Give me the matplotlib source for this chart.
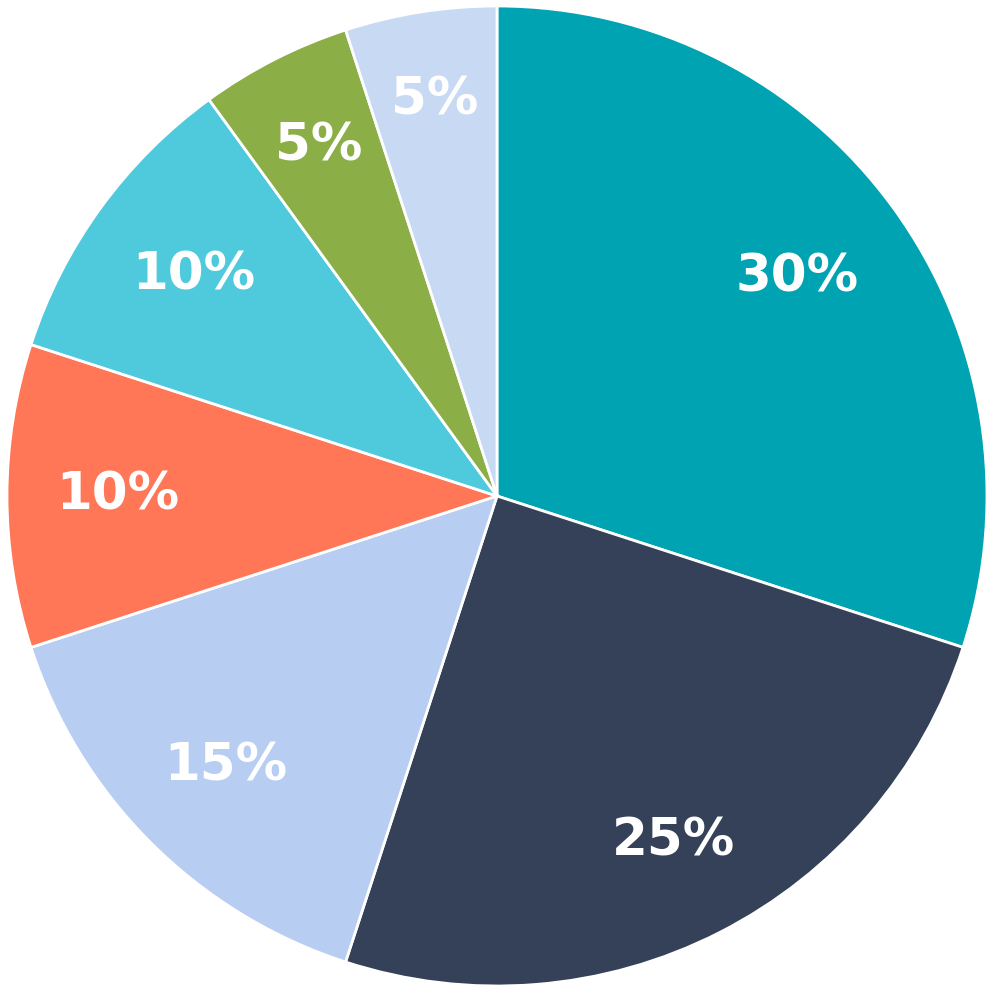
import matplotlib
matplotlib.use("Agg")
import matplotlib.pyplot as plt
import numpy as np

labels = ["A", "B", "C", "D", "E", "F", "G"]
values = [30, 25, 15, 10, 10, 5, 5]
colors = ["#00A3B1", "#344159", "#B8CDF2", "#FF7757", "#4FCADD", "#8BAE47", "#C8D9F3"]
label_dist = [0.757, 0.792, 0.782, 0.774, 0.764, 0.80, 0.818]

fig = plt.figure(figsize=(9.96, 9.89), dpi=100)
ax = fig.add_axes([0, 0, 1, 1])
wedges, texts, autotexts = ax.pie(
    values, colors=colors, startangle=90, counterclock=False,
    autopct=lambda p: f"{p:.0f}%", pctdistance=0.78, radius=1.0,
    wedgeprops=dict(edgecolor="white", linewidth=2),
    textprops=dict(color="white", fontsize=37, fontweight="bold", family="DejaVu Sans"),
)
for w, t, d in zip(wedges, autotexts, label_dist):
    ang = np.deg2rad((w.theta1 + w.theta2) / 2)
    t.set_position((d * np.cos(ang), d * np.sin(ang)))
ax.set_aspect("equal")
ax.set_xlim(-1.0143, 1.0184)
ax.set_ylim(-1.0061, 1.0122)
ax.axis("off")
fig.savefig("out.png", dpi=100, facecolor="white")
